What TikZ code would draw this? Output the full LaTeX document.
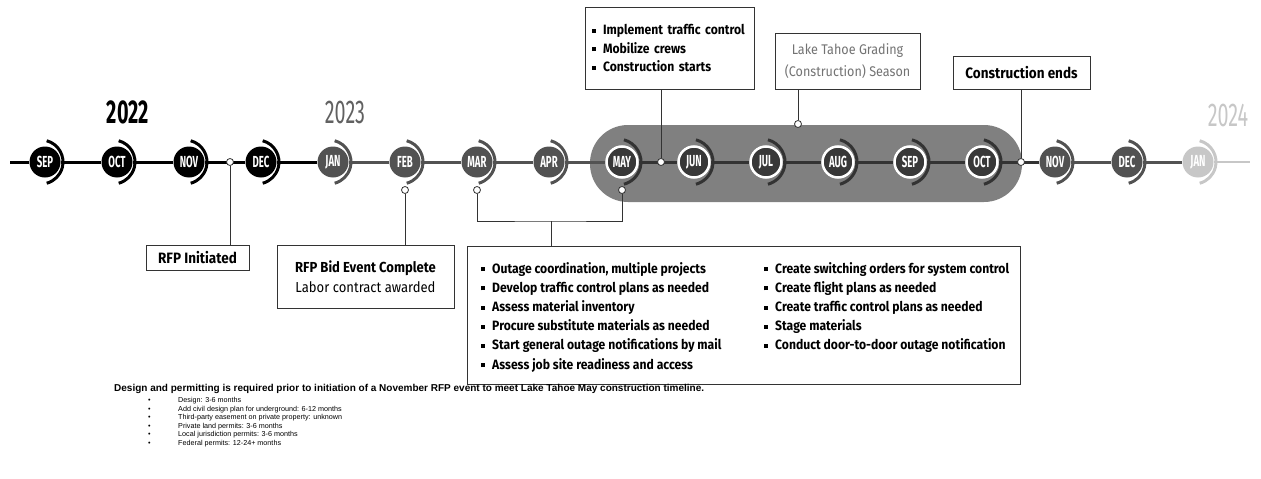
\documentclass[tikz,border=0pt]{standalone}
\usepackage{fontspec}
\newfontfamily\condfont{Fira Sans}[FakeStretch=0.9]
\newfontfamily\monthfont{Fira Sans}[FakeStretch=0.6]
\newfontfamily\yearfont{Fira Sans}[FakeStretch=0.6]
\newfontfamily\notefont{Liberation Sans}
\usetikzlibrary{calc}

\definecolor{gray23}{gray}{0.32}
\newcommand{\sqb}{\rule[2pt]{4pt}{4pt}\hspace{7pt}}

\begin{document}
\begin{tikzpicture}[
    x=1pt, y=-1pt,
% Month styles
    month22/.style={circle, fill=black, minimum size=31pt, inner sep=0pt, text=white, font=\monthfont\bfseries\fontsize{16}{16}\selectfont},
    month23/.style={month22, fill=gray23},
    season/.style={month22, fill=black!78, draw=white, line width=2.5pt},
    month24/.style={month22, fill=black!22},
    dot/.style={circle, draw=black!80, fill=white, line width=0.8pt, minimum size=7pt, inner sep=0pt},
% Box styles
    note/.style={rectangle, draw=black!80, line width=0.9pt, fill=white, inner sep=0pt, font=\condfont\fontsize{14.5}{18.5}\selectfont},
    link/.style={black!80, line width=1pt}
]
\useasboundingbox (0,0) rectangle (1261,479);

% 1. Construction season band
\fill[black!50, rounded corners=38pt] (590,125) rectangle (1022,202);

% 2. Years
\node[font=\yearfont\bfseries\fontsize{33}{33}\selectfont] (y2022) at (128,112) {2022};
\node[font=\yearfont\fontsize{33}{33}\selectfont, text=black!62] (y2023) at (345,112) {2023};
\node[font=\yearfont\fontsize{33}{33}\selectfont, text=black!22] (y2024) at (1228,115) {2024};

% 3. Months
\node[month22] (sep22) at (45,162) {SEP};
\node[month22] (oct22) at (117,162) {OCT};
\node[month22] (nov22) at (189,162) {NOV};
\node[month22] (dec22) at (261,162) {DEC};
\node[month23] (jan23) at (333,162) {JAN};
\node[month23] (feb23) at (405,162) {FEB};
\node[month23] (mar23) at (477,162) {MAR};
\node[month23] (apr23) at (549,162) {APR};
\node[season] (may23) at (622,162) {MAY};
\node[season] (jun23) at (694,162) {JUN};
\node[season] (jul23) at (766,162) {JUL};
\node[season] (aug23) at (838,162) {AUG};
\node[season] (sep23) at (910,162) {SEP};
\node[season] (oct23) at (982,162) {OCT};
\node[month23] (nov23) at (1055,162) {NOV};
\node[month23] (dec23) at (1127,162) {DEC};
\node[month24] (jan24) at (1198,162) {JAN};
\coordinate (tlstart) at (10,162);
\coordinate (tlend) at (1250,162);

% Timeline segments
\draw[line width=3pt] (tlstart) -- (sep22) (sep22) -- (oct22) (oct22) -- (nov22) (nov22) -- (dec22) (dec22) -- (jan23);
\draw[line width=3pt, gray23] (jan23) -- (feb23) (feb23) -- (mar23) (mar23) -- (apr23) (apr23) -- (may23);
\draw[line width=3pt, black!80] (may23) -- (jun23) (jun23) -- (jul23) (jul23) -- (aug23) (aug23) -- (sep23) (sep23) -- (oct23) (oct23) -- (nov23);
\draw[line width=3pt, gray23] (nov23) -- (dec23) (dec23) -- (jan24);
\draw[line width=2pt, black!22] (jan24) -- (tlend);

% Half rings
\foreach \m in {sep22, oct22, nov22, dec22}
    \draw[line width=3pt] ([xshift=-4pt]\m.center) ++(-75:22) arc[start angle=-75, end angle=75, radius=22];
\foreach \m in {jan23, feb23, mar23, apr23, nov23, dec23}
    \draw[line width=3pt, gray23] ([xshift=-4pt]\m.center) ++(-75:22) arc[start angle=-75, end angle=75, radius=22];
\foreach \m in {may23, jun23, jul23, aug23, sep23, oct23}
    \draw[line width=3pt, black!80] ([xshift=-4pt]\m.center) ++(-75:23) arc[start angle=-75, end angle=75, radius=23];
\draw[line width=3pt, black!22] ([xshift=-4pt]jan24.center) ++(-75:22) arc[start angle=-75, end angle=75, radius=22];

% 4. Milestone dots
\node[dot] (drfp) at (230,162) {};
\node[dot] (dfeb) at (405,190) {};
\node[dot] (dmar) at (477,190) {};
\node[dot] (dmay) at (622,190) {};
\node[dot] (dstart) at (661,162) {};
\node[dot] (dgrade) at (798,124) {};
\node[dot] (dend) at (1021,162) {};

% 5. Boxes above
\node[note, minimum width=169pt, minimum height=82pt, text width=155pt, align=left, font=\condfont\bfseries\fontsize{13.5}{18.5}\selectfont] (startbox) at (669.5,48)
    {\sqb Implement traffic control\\ \sqb Mobilize crews\\ \sqb Construction starts};
\node[note, minimum width=145pt, minimum height=56pt, align=center, text=black!55, font=\condfont\fontsize{14}{22}\selectfont] (gradebox) at (847.5,61)
    {Lake Tahoe Grading\\(Construction) Season};
\node[note, minimum width=137pt, minimum height=33pt, font=\condfont\bfseries\fontsize{15}{16}\selectfont] (endbox) at (1021.5,72.5) {Construction ends};

% 6. Boxes below
\node[note, minimum width=103pt, minimum height=25pt, font=\condfont\bfseries\fontsize{15}{16}\selectfont] (rfpbox) at (197.5,257.5) {RFP Initiated};
\node[note, minimum width=177pt, minimum height=63pt, align=center, font=\condfont\fontsize{14.5}{20}\selectfont] (bidbox) at (365.5,276.5)
    {\textbf{RFP Bid Event Complete}\\Labor contract awarded};
\node[note, minimum width=553pt, minimum height=138pt] (taskbox) at (743.5,315) {};
\node[anchor=north west, align=left, inner sep=0pt, font=\condfont\bfseries\fontsize{13.5}{19.2}\selectfont] (taskleft) at (481,262)
    {\sqb Outage coordination, multiple projects\\ \sqb Develop traffic control plans as needed\\ \sqb Assess material inventory\\
     \sqb Procure substitute materials as needed\\ \sqb Start general outage notifications by mail\\ \sqb Assess job site readiness and access};
\node[anchor=north west, align=left, inner sep=0pt, font=\condfont\bfseries\fontsize{13.5}{19.2}\selectfont] (taskright) at (764,262)
    {\sqb Create switching orders for system control\\ \sqb Create flight plans as needed\\ \sqb Create traffic control plans as needed\\
     \sqb Stage materials\\ \sqb Conduct door-to-door outage notification};

% Connectors
\coordinate (brk) at (551,221);
\draw[link] (startbox.south -| dstart) -- (dstart);
\draw[link] (gradebox.south -| dgrade) -- (dgrade);
\draw[link] (endbox.south -| dend) -- (dend);
\draw[link] (drfp) -- (drfp |- rfpbox.north);
\draw[link] (dfeb) -- (dfeb |- bidbox.north);
\draw[link] (dmar) |- (brk) -| (dmay);
\draw[link] (brk) -- (brk |- taskbox.north);

% 7. Design and permitting notes
\node[anchor=west, inner sep=0pt, font=\notefont\bfseries\fontsize{10}{11}\selectfont] (permit) at (114,389)
    {Design and permitting is required prior to initiation of a November RFP event to meet Lake Tahoe May construction timeline.};
\node[anchor=north west, align=left, inner sep=0pt, font=\notefont\fontsize{7.2}{8.6}\selectfont] (permitlist) at (148,397)
    {\makebox[30pt][l]{\textbullet}Design: 3-6 months\\
     \makebox[30pt][l]{\textbullet}Add civil design plan for underground: 6-12 months\\
     \makebox[30pt][l]{\textbullet}Third-party easement on private property: unknown\\
     \makebox[30pt][l]{\textbullet}Private land permits: 3-6 months\\
     \makebox[30pt][l]{\textbullet}Local jurisdiction permits: 3-6 months\\
     \makebox[30pt][l]{\textbullet}Federal permits: 12-24+ months};

\end{tikzpicture}
\end{document}
